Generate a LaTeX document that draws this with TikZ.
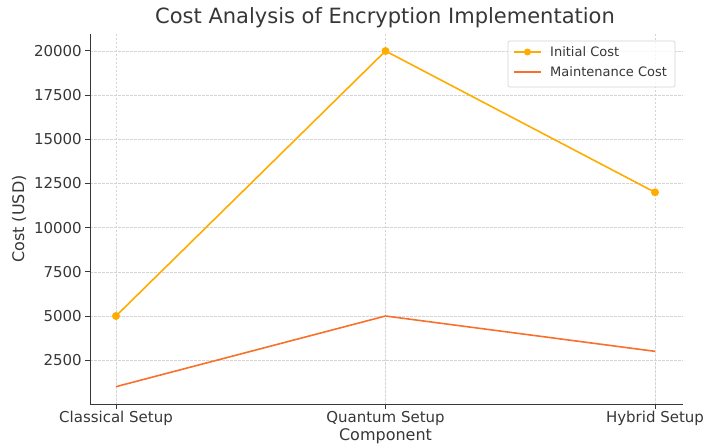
\documentclass[tikz,border=0pt]{standalone}
\usepackage{fontspec}
\setmainfont{DejaVu Sans}
\usepackage{xcolor}
\usetikzlibrary{positioning,calc}

\definecolor{initc}{RGB}{255,172,0}
\definecolor{maintc}{RGB}{249,112,42}
\definecolor{inkc}{RGB}{55,55,55}
\definecolor{gridc}{RGB}{212,212,212}

\tikzset{
    gridline/.style={draw=gridc, line width=0.6pt, dash pattern=on 2.5pt off 1.5pt},
    spine/.style={draw=inkc, line width=1pt},
    ticklabel/.style={text=inkc, font=\fontsize{15}{17}\selectfont, inner sep=1pt},
    axislabel/.style={text=inkc, font=\fontsize{16}{18}\selectfont, inner sep=1pt},
    initline/.style={draw=initc, line width=1.6pt},
    maintline/.style={draw=maintc, line width=1.6pt},
    dot/.style={circle, fill=initc, inner sep=0pt, minimum size=8pt},
}

\begin{document}
\begin{tikzpicture}[x=1pt, y=-1pt,
    declare function={px(\i)=116+269.5*\i; py(\k)=316-(\k-5)*17.667;}]
    \useasboundingbox (0,0) rectangle (706,446);

    % grid (values in thousands)
    \foreach \k in {2.5,5,7.5,10,12.5,15,17.5,20}
        \draw [gridline] (90,{py(\k)}) -- (683,{py(\k)});
    \foreach \i in {0,1,2}
        \draw [gridline] ({px(\i)},34) -- ({px(\i)},404);

    % spines and ticks
    \draw [spine] (90,34) -- (90,404) -- (683,404);
    \foreach \k/\lab in {2.5/2500,5/5000,7.5/7500,10/10000,12.5/12500,15/15000,17.5/17500,20/20000} {
        \draw [spine] (85,{py(\k)}) -- (90,{py(\k)});
        \node [ticklabel, anchor=east] (ytick\lab) at (83,{py(\k)}) {\lab};
    }
    \foreach \i/\lab in {0/Classical Setup,1/Quantum Setup,2/Hybrid Setup} {
        \draw [spine] ({px(\i)},404) -- ({px(\i)},409);
        \node [ticklabel, anchor=north] (xtick\i) at ({px(\i)},410) {\lab};
    }

    % labels
    \node [text=inkc, font=\fontsize{21}{24}\selectfont] (title) at (385,18) {Cost Analysis of Encryption Implementation};
    \node [axislabel, below=0.5pt of xtick1] (xlabel) {Component};
    \node [axislabel, rotate=90] (ylabel) at (19,219) {Cost (USD)};

    % data
    \coordinate (i0) at ({px(0)},{py(5)});
    \coordinate (i1) at ({px(1)},{py(20)});
    \coordinate (i2) at ({px(2)},{py(12)});
    \coordinate (m0) at ({px(0)},{py(1)});
    \coordinate (m1) at ({px(1)},{py(5)});
    \coordinate (m2) at ({px(2)},{py(3)});
    \draw [maintline] (m0) -- (m1) -- (m2);
    \draw [initline] (i0) -- (i1) -- (i2);
    \foreach \p in {i0,i1,i2}
        \node [dot] at (\p) {};

    % legend
    \draw [draw=gridc, fill=white, fill opacity=0.8, rounded corners=2pt, line width=0.7pt] (508,41) rectangle (675,87);
    \draw [initline] (514,52) -- (541,52);
    \node [dot, minimum size=7pt] (legdot) at (527.5,52) {};
    \draw [maintline] (514,72) -- (541,72);
    \node [ticklabel, anchor=west, font=\fontsize{13}{15}\selectfont] (leginit) at (549,52) {Initial Cost};
    \node [ticklabel, anchor=west, font=\fontsize{13}{15}\selectfont] (legmaint) at (549,72) {Maintenance Cost};
\end{tikzpicture}
\end{document}
